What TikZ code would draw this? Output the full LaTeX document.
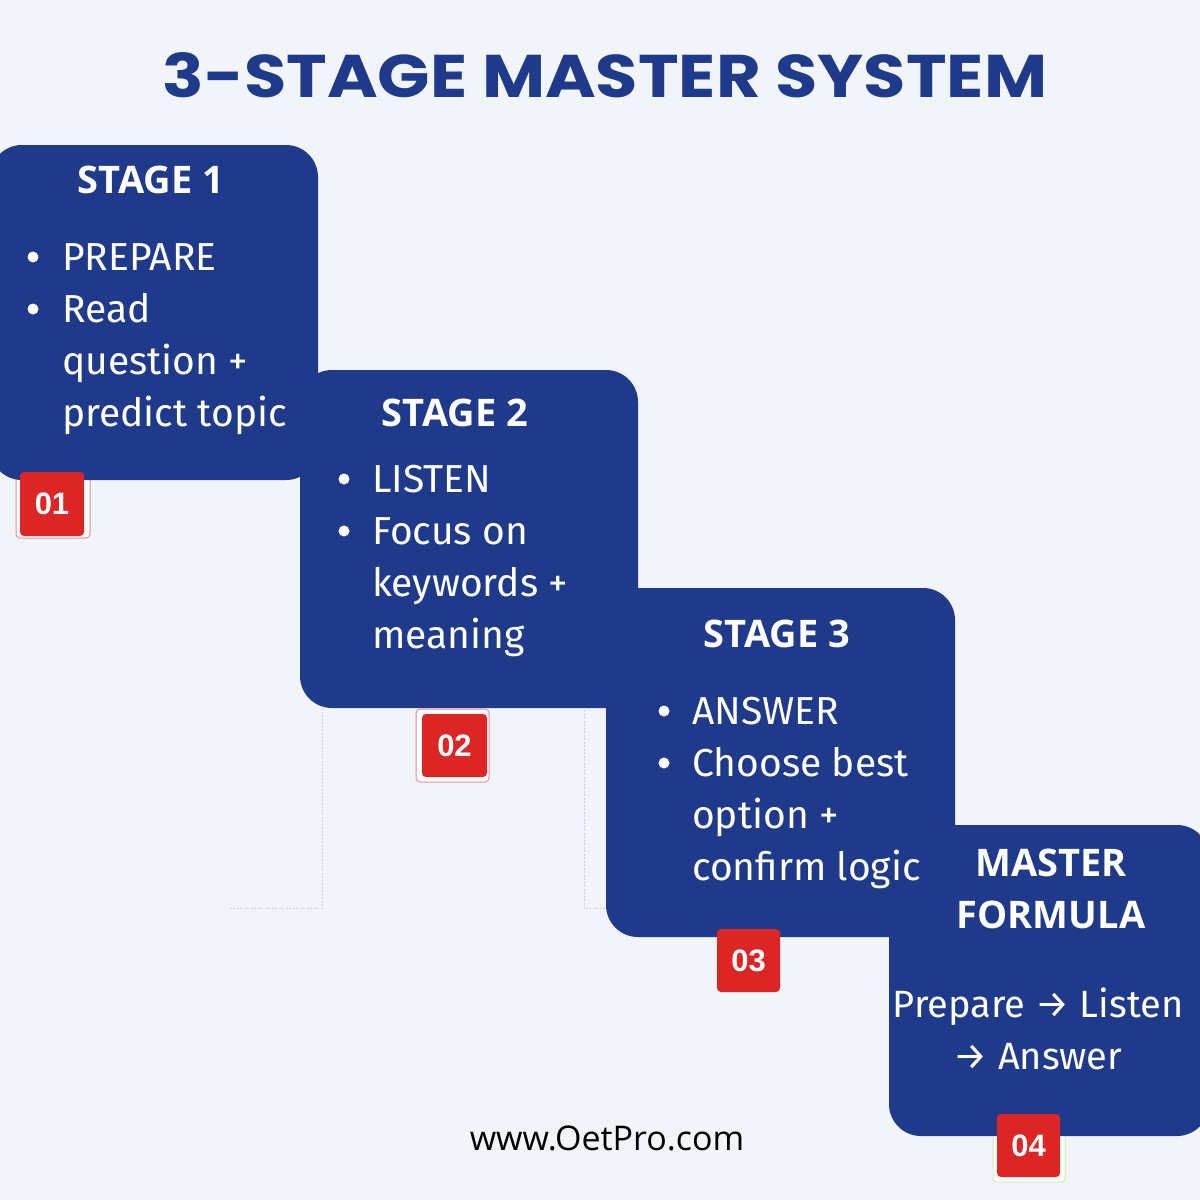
\documentclass[tikz,border=0pt]{standalone}
\usepackage{fontspec}
\setmainfont{Fira Sans}
\newfontfamily\titlefont{Poppins}
\newfontfamily\headfont{Open Sans}
\newfontfamily\footfont{Open Sans}
\newfontfamily\badgefont{Liberation Sans}
\definecolor{bg}{HTML}{F1F4F9}
\definecolor{navy}{HTML}{1F3A8A}
\definecolor{badgered}{HTML}{DC2626}
\definecolor{pinkline}{HTML}{F08A9A}
\definecolor{limeline}{HTML}{DDE8A8}
\definecolor{dashgrey}{HTML}{CDD1D6}
\begin{document}
\begin{tikzpicture}[x=1pt,y=-1pt,
 stagebox/.style={fill=navy, rounded corners=32pt, inner sep=0pt, outer sep=0pt, anchor=north west},
 head/.style={text=white, font=\headfont\fontsize{38}{46}\selectfont\bfseries, anchor=base, inner sep=0pt},
 body/.style={text=white, font=\fontsize{39}{46}\selectfont, anchor=base west, inner sep=0pt},
 dot/.style={circle, fill=white, inner sep=0pt, minimum size=11pt},
 badgeframe/.style={fill=white, rounded corners=4pt, line width=1pt, anchor=north west, inner sep=0pt, outer sep=0pt},
 badge/.style={fill=badgered, rounded corners=4pt, text=white, font=\badgefont\fontsize{31}{34}\selectfont\bfseries, inner sep=0pt, outer sep=0pt, anchor=north west, minimum width=64pt, minimum height=64pt},
 guide/.style={draw=dashgrey, line width=0.7pt, dash pattern=on 2pt off 1.5pt}
]
\fill[bg] (0,0) rectangle (1200,1200);
\useasboundingbox (0,0) rectangle (1200,1200);

% title
\node[anchor=base, inner sep=0pt, text=navy] (title) at (605,97)
  {\resizebox{884pt}{45pt}{\titlefont\bfseries 3-STAGE MASTER SYSTEM}};

% faint guide lines
\coordinate (g1a) at (322,708); \coordinate (g1b) at (322,908); \coordinate (g1c) at (229,908);
\coordinate (g2a) at (584,710); \coordinate (g2b) at (584,908); \coordinate (g2c) at (606,908);
\draw[guide] (g1a) -- (g1b) -- (g1c);
\draw[guide] (g2a) -- (g2b) -- (g2c);

% badge frames (behind boxes)
\node[badgeframe, draw=pinkline, minimum width=74pt, minimum height=68pt] (f1) at (16,470) {};
\node[badgeframe, draw=pinkline, minimum width=73pt, minimum height=73pt] (f2) at (416,709) {};
\node[badgeframe, draw=limeline, minimum width=72pt, minimum height=72pt] (f4) at (993,1110) {};

% stage boxes
\node[stagebox, minimum width=328pt, minimum height=335pt] (b1) at (-10,145) {};
\node[stagebox, minimum width=338pt, minimum height=338pt] (b2) at (300,370) {};
\node[stagebox, minimum width=349pt, minimum height=349pt] (b3) at (606,588) {};
\node[stagebox, minimum width=320pt, minimum height=311pt] (b4) at (889,825) {};

% stage 1 text
\node[head] (h1) at (151,193) {STAGE 1};
\node[dot] (d1a) at (33,257) {};
\node[dot] (d1b) at (33,309) {};
\node[body] (t1a) at (62,270) {PREPARE};
\node[body] (t1b) at (62,322) {Read};
\node[body] (t1c) at (62,374) {question +};
\node[body] (t1d) at (62,426) {predict topic};

% stage 2 text
\node[head] (h2) at (455,426) {STAGE 2};
\node[dot] (d2a) at (344,479) {};
\node[dot] (d2b) at (344,531) {};
\node[body] (t2a) at (372,492) {LISTEN};
\node[body] (t2b) at (372,544) {Focus on};
\node[body] (t2c) at (372,596) {keywords +};
\node[body] (t2d) at (372,648) {meaning};

% stage 3 text
\node[head] (h3) at (777,647) {STAGE 3};
\node[dot] (d3a) at (664,711) {};
\node[dot] (d3b) at (664,763) {};
\node[body] (t3a) at (692,724) {ANSWER};
\node[body] (t3b) at (692,776) {Choose best};
\node[body] (t3c) at (692,828) {option +};
\node[body] (t3d) at (692,880) {confirm logic};

% master formula
\node[head] (h4a) at (1051,876) {MASTER};
\node[head] (h4b) at (1051,928) {FORMULA};
\node[body, anchor=base, font=\fontsize{38}{46}\selectfont] (t4a) at (1038,1017) {Prepare → Listen};
\node[body, anchor=base, font=\fontsize{38}{46}\selectfont] (t4b) at (1038,1069) {→ Answer};

% red badges
\node[badge] (n1) at (20,472) {01};
\node[badge, minimum width=65pt, minimum height=63pt] (n2) at (422,714) {02};
\node[badge, minimum width=63pt, minimum height=63pt] (n3) at (717,929) {03};
\node[badge, minimum width=63pt, minimum height=63pt] (n4) at (997,1114) {04};

% footer
\node[anchor=base, inner sep=0pt, font=\footfont\fontsize{34}{40}\selectfont, text=black] (foot) at (607,1150) {www.OetPro.com};
\end{tikzpicture}
\end{document}
